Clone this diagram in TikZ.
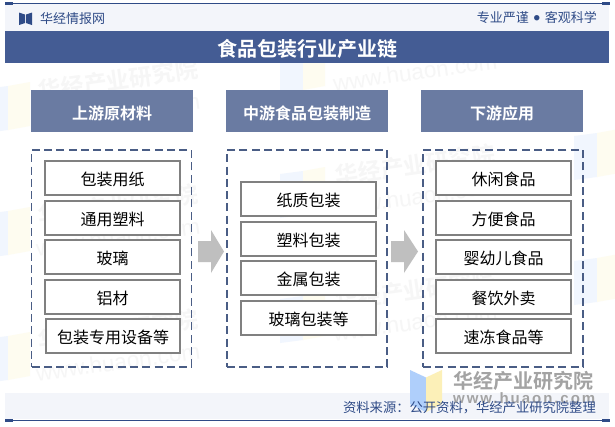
\documentclass[tikz,border=0pt]{standalone}
\usepackage{fontspec}
\setmainfont{Liberation Sans}
\newfontfamily\cjk{Noto Sans CJK SC}
\newfontfamily\cjkb{Noto Sans CJK SC Bold}
\definecolor{navy}{HTML}{2F4B87}
\definecolor{band}{HTML}{445C94}
\definecolor{head}{HTML}{6A7BA2}
\definecolor{dash}{HTML}{4A5D85}
\definecolor{pale}{HTML}{F3F5FA}
\definecolor{inner}{HTML}{808080}
\definecolor{arr}{HTML}{BFBFBF}
\definecolor{wm}{HTML}{F6F6F6}
\definecolor{wmblue}{HTML}{F1F6FE}
\definecolor{wmyellow}{HTML}{FEFCF0}
\definecolor{logoblue}{HTML}{AFCFFB}
\definecolor{logoyellow}{HTML}{FCF0B8}
\definecolor{logogray}{HTML}{A3A3A3}
\tikzset{
  headbox/.style={fill=head,draw=none,minimum width=162,minimum height=42,inner sep=0,text=white,font=\cjkb\fontsize{16}{16}\selectfont,text height=19pt,text depth=2pt},
  itembox/.style={draw=inner,line width=2,fill=white,minimum width=135,minimum height=34,inner sep=0,text=black,font=\cjk\fontsize{16}{16}\selectfont,text height=17pt,text depth=2pt},
  dashbox/.style={draw=dash,line width=1.8,dash pattern=on 8 off 4.3,fill=none,minimum width=160,minimum height=217,inner sep=0},
  bigarrow/.style={fill=arr,draw=none},
  wmtext/.style={text=wm,font=\cjkb\fontsize{23}{23}\selectfont,rotate=8},
  wmurl/.style={text=wm,font=\fontsize{22.5}{23}\selectfont,rotate=8},
  smalltext/.style={text=navy,font=\cjk\fontsize{13}{13}\selectfont,inner sep=0}
}
\begin{document}
\begin{tikzpicture}[x=1pt,y=-1pt]
\useasboundingbox (0,0) rectangle (615,426);
\fill[white] (0,0) rectangle (615,426);
% faint watermark logos
\foreach \lx/\ly in {8/108,8/233,8/358,303/68,303/193,303/318,597/155,597/280}{
  \fill[wmblue] (\lx-23,\ly-19) -- (\lx,\ly-22) -- (\lx,\ly+22) -- (\lx-23,\ly+25) -- cycle;
  \fill[wmyellow] (\lx,\ly-22) -- (\lx+22,\ly-26) -- (\lx+22,\ly+18) -- (\lx,\ly+22) -- cycle;
}
% faint watermark texts
\foreach \wx/\wy in {118/80,118/205,118/330,415/40,415/165,415/290}{
  \node[wmtext] at (\wx,\wy) {华经产业研究院};
  \node[wmurl] at (\wx,\wy+32) {www.huaon.com};
}
% top band
\fill[pale] (5,4) rectangle (609,31);
\draw[navy,line width=1] (5,3.5) -- (610,3.5);
\fill[navy] (5,2) rectangle (13,5);
\fill[navy] (602,2) rectangle (610,5);
\fill[navy] (19,12.5) -- (25,14.5) -- (25,23) -- (19,25) -- cycle;
\fill[navy] (32,12.5) -- (26,14.5) -- (26,23) -- (32,25) -- cycle;
\node[smalltext,anchor=west] (brand) at (40,18.5) {华经情报网};
\node[smalltext,anchor=east] (motto) at (597,17.5) {专业严谨\makebox[16pt]{\raisebox{1.5pt}{\fontsize{6}{6}\selectfont ●}}客观科学};
% title
\fill[band] (5,31) rectangle (609,63);
\node[text=white,font=\cjkb\fontsize{20}{20}\selectfont,text height=16.5pt,text depth=2.3pt] (title) at (307.5,49.5) {食品包装行业产业链};
% headers
\node[headbox] (h1) at (112,111) {上游原材料};
\node[headbox] (h2) at (307,111) {中游食品包装制造};
\node[headbox] (h3) at (502,111) {下游应用};
% dashed frames
\node[dashbox] (d1) at (111.5,258.5) {};
\node[dashbox] (d2) at (307,258.5) {};
\node[dashbox] (d3) at (503,258.5) {};
% left items
\node[itembox] (a1) at (112.5,178) {包装用纸};
\node[itembox] (a2) at (112.5,218) {通用塑料};
\node[itembox] (a3) at (112.5,257) {玻璃};
\node[itembox] (a4) at (112.5,297) {铝材};
\node[itembox,minimum width=134] (a5) at (113,336) {包装专用设备等};
% middle items
\node[itembox] (b1) at (308.5,199) {纸质包装};
\node[itembox] (b2) at (308.5,238.5) {塑料包装};
\node[itembox] (b3) at (308.5,278) {金属包装};
\node[itembox] (b4) at (308.5,318) {玻璃包装等};
% right items
\node[itembox] (c1) at (503.5,178) {休闲食品};
\node[itembox] (c2) at (503.5,218) {方便食品};
\node[itembox] (c3) at (503.5,257) {婴幼儿食品};
\node[itembox] (c4) at (503.5,297) {餐饮外卖};
\node[itembox] (c5) at (503.5,336) {速冻食品等};
% arrows
\fill[bigarrow] (198,241) -- (211,241) -- (211,230) -- (224,251.5) -- (211,273) -- (211,262) -- (198,262) -- cycle;
\fill[bigarrow] (391,241) -- (404,241) -- (404,230) -- (418,251.5) -- (404,273) -- (404,262) -- (391,262) -- cycle;
% footer
\fill[pale] (5,393) rectangle (609,419);
\draw[navy,line width=1] (5,420.5) -- (610,420.5);
\fill[navy] (5,419) rectangle (13,422);
\fill[navy] (602,419) rectangle (610,422);
% logo
\fill[logoblue] (410,370) -- (426,377.5) -- (426,412) -- (410,404) -- cycle;
\fill[logoyellow] (426,377.5) -- (442,370) -- (442,404) -- (426,412) -- cycle;
\node[text=logogray,font=\cjkb\fontsize{20}{20}\selectfont,anchor=west,inner sep=0] (wmname) at (453,380.5) {华经产业研究院};
\node[text=logogray,font=\bfseries\fontsize{15}{15}\addfontfeature{LetterSpace=13}\selectfont,anchor=west,inner sep=0] (wmsite) at (453,398.5) {www.huaon.com};
\node[smalltext,font=\cjk\fontsize{13.3}{14}\selectfont,anchor=east] (source) at (596,408) {资料来源：公开资料，华经产业研究院整理};
\end{tikzpicture}
\end{document}
